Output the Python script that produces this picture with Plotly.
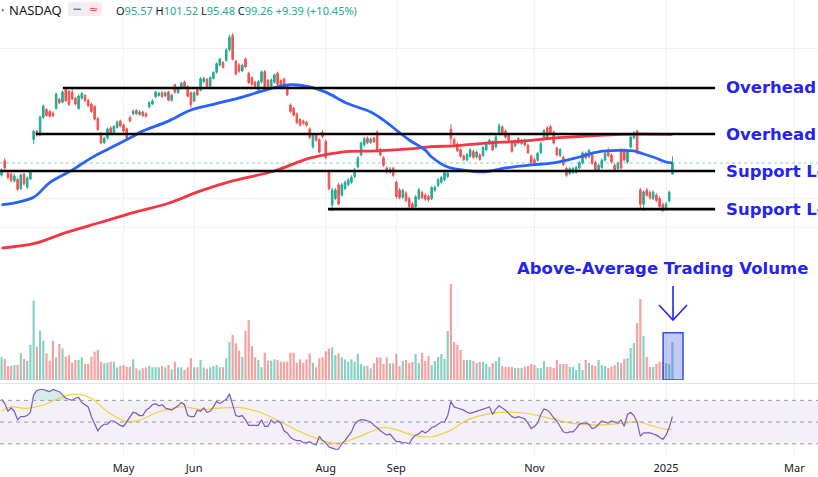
import math
import pandas as pd
import plotly.graph_objects as go

# trading days shown on the chart (Mar 7 2024 -> Jan 6 2025)
holidays = ["2024-03-29", "2024-05-27", "2024-06-19", "2024-07-04", "2024-09-02",
            "2024-11-28", "2024-12-25", "2025-01-01"]
dates = pd.bdate_range("2024-03-07", "2025-01-06", freq="C", holidays=holidays)

opens = [95.3, 100.0, 96.0, 95.5, 93.4, 93.9, 91.0, 95.6, 91.5, 94.0,
         107.5, 110.6, 109.2, 115.8, 119.0, 118.2, 117.5, 119.4, 123.2, 122.0,
         127.3, 126.6, 126.2, 123.6, 119.4, 123.6, 124.8, 122.8, 121.2, 120.2,
         115.4, 109.6, 106.3, 108.0, 111.8, 109.8, 112.0, 114.4, 112.9, 111.5,
         115.8, 117.2, 118.6, 117.0, 118.0, 117.3, 120.0, 121.2, 124.2, 124.8,
         126.0, 124.6, 126.3, 122.8, 129.4, 126.0, 127.8, 130.6, 128.6, 126.0,
         122.5, 127.3, 127.0, 130.8, 131.8, 128.8, 132.2, 135.0, 138.3, 139.5,
         140.5, 145.8, 153.0, 140.2, 138.4, 135.6, 141.2, 134.5, 132.5, 130.5,
         127.2, 130.6, 135.3, 131.4, 128.5, 130.5, 134.6, 131.2, 132.0, 128.5,
         120.8, 119.5, 117.2, 115.0, 114.4, 114.0, 111.4, 104.8, 109.2, 107.4,
         110.2, 106.8, 96.2, 86.1, 88.0, 92.2, 89.0, 91.0, 92.2, 93.0,
         94.8, 98.0, 102.0, 105.6, 108.0, 106.4, 108.0, 110.3, 103.9, 101.0,
         97.6, 96.2, 97.5, 93.0, 90.6, 88.4, 89.6, 88.0, 86.4, 85.6,
         88.0, 89.8, 89.0, 88.6, 88.0, 90.5, 92.0, 93.0, 93.8, 94.8,
         111.3, 107.6, 105.8, 103.8, 101.6, 100.3, 101.5, 103.2, 101.3, 102.0,
         101.8, 103.8, 106.0, 106.6, 104.8, 110.2, 112.2, 110.6, 109.5, 106.3,
         105.2, 107.8, 106.0, 107.2, 105.4, 101.6, 100.4, 100.2, 102.8, 107.6,
         111.8, 112.2, 110.2, 104.4, 101.8, 101.2, 97.5, 95.8, 96.1, 96.2,
         97.6, 99.3, 102.6, 101.3, 102.1, 99.5, 96.8, 97.8, 100.2, 102.9,
         102.0, 98.5, 97.4, 103.8, 103.7, 99.6, 104.8, 108.0, 110.6, 90.6,
         86.3, 90.6, 89.8, 88.0, 89.0, 88.0, 86.2, 84.9, 87.3, 95.57]

highs = [97.5, 101.0, 96.8, 96.3, 95.8, 94.3, 95.8, 96.0, 94.8, 97.0,
         111.2, 111.0, 116.6, 121.0, 119.6, 118.8, 118.2, 126.0, 123.8, 126.9,
         128.1, 127.2, 127.8, 124.2, 125.2, 126.2, 125.4, 123.4, 121.8, 120.8,
         116.0, 110.2, 108.5, 112.0, 112.4, 112.9, 114.6, 115.0, 113.5, 112.0,
         116.5, 119.0, 119.2, 118.8, 118.6, 117.9, 122.4, 123.2, 126.8, 126.4,
         126.6, 126.5, 126.8, 125.5, 130.0, 128.6, 130.7, 131.2, 129.2, 126.5,
         126.6, 128.0, 132.8, 133.0, 132.4, 133.2, 135.5, 139.6, 141.8, 140.2,
         146.4, 153.5, 154.3, 140.8, 139.2, 139.0, 142.0, 135.3, 133.2, 131.2,
         131.5, 135.8, 136.0, 132.0, 132.2, 134.5, 135.3, 131.8, 132.6, 129.0,
         121.5, 120.0, 117.8, 115.6, 115.0, 114.5, 112.0, 109.6, 109.8, 108.0,
         111.0, 107.5, 96.8, 91.2, 91.2, 92.8, 92.8, 93.6, 94.3, 95.2,
         97.6, 101.6, 106.8, 108.4, 108.6, 108.3, 108.5, 110.9, 104.5, 101.6,
         98.2, 97.9, 98.0, 93.6, 91.2, 91.0, 90.2, 88.6, 87.0, 89.0,
         91.2, 90.3, 89.6, 89.2, 91.8, 92.0, 94.4, 95.0, 96.5, 96.5,
         113.2, 108.2, 106.4, 104.4, 102.2, 102.7, 104.4, 103.8, 103.6, 102.6,
         105.2, 106.8, 107.8, 107.2, 109.1, 113.5, 112.8, 111.2, 110.0, 106.9,
         107.6, 108.4, 107.7, 107.8, 106.0, 102.2, 101.0, 103.1, 106.6, 111.4,
         112.4, 113.0, 110.8, 105.0, 104.4, 101.8, 98.0, 98.0, 98.0, 98.4,
         100.0, 103.3, 103.2, 104.2, 102.7, 100.1, 99.1, 100.8, 103.2, 104.6,
         102.6, 99.1, 99.8, 104.4, 104.3, 103.7, 109.0, 110.6, 111.1, 91.2,
         90.5, 91.2, 90.4, 90.5, 89.6, 88.6, 86.8, 87.0, 90.4, 101.52]

lows = [94.8, 97.0, 93.8, 93.0, 92.8, 90.2, 90.6, 92.0, 90.8, 93.6,
        105.8, 108.6, 108.7, 115.3, 116.1, 115.8, 115.9, 118.9, 121.2, 121.5,
        122.1, 120.5, 122.8, 120.7, 118.9, 123.1, 122.1, 120.0, 117.7, 114.7,
        110.7, 105.7, 105.8, 107.5, 109.1, 109.3, 111.5, 112.0, 110.0, 107.5,
        114.0, 116.8, 116.8, 116.5, 116.0, 115.8, 119.5, 120.8, 123.8, 124.3,
        123.8, 124.0, 122.3, 122.2, 125.6, 125.5, 127.3, 128.0, 124.0, 119.6,
        122.0, 124.5, 126.5, 130.2, 128.2, 128.3, 131.7, 134.5, 137.8, 136.8,
        140.0, 145.0, 140.5, 133.5, 134.8, 135.0, 137.0, 129.8, 129.0, 128.2,
        126.6, 130.0, 127.8, 128.2, 128.0, 130.0, 129.0, 128.5, 127.5, 124.5,
        117.6, 116.2, 113.3, 112.3, 113.0, 112.2, 107.6, 104.2, 106.7, 102.5,
        108.0, 100.6, 90.5, 84.3, 87.5, 86.0, 88.5, 90.5, 91.7, 92.5,
        94.3, 97.5, 101.5, 105.0, 105.8, 105.9, 106.2, 102.8, 101.5, 98.0,
        95.8, 95.7, 94.7, 88.0, 87.8, 87.9, 86.9, 85.0, 84.7, 84.5,
        87.5, 87.8, 87.3, 87.0, 87.5, 90.0, 91.5, 92.5, 93.3, 94.3,
        105.6, 105.0, 103.0, 101.0, 99.9, 99.8, 101.0, 100.7, 100.8, 100.0,
        101.3, 103.3, 105.5, 103.3, 104.3, 109.6, 109.0, 107.8, 106.5, 102.8,
        104.7, 105.7, 105.5, 105.0, 102.3, 98.9, 98.3, 99.7, 102.3, 107.1,
        107.8, 109.4, 105.7, 101.5, 101.3, 98.2, 94.7, 95.3, 95.6, 95.7,
        97.1, 98.8, 100.5, 100.8, 98.7, 96.3, 96.3, 97.3, 99.7, 101.3,
        99.1, 96.4, 96.9, 97.1, 99.8, 99.1, 104.3, 107.5, 102.2, 84.8,
        84.4, 88.5, 87.7, 87.5, 86.9, 85.1, 84.0, 84.4, 86.8, 95.48]

closes = [96.9, 97.6, 94.5, 93.6, 95.0, 90.8, 95.3, 92.5, 94.3, 96.3,
          110.5, 109.3, 116.0, 120.4, 116.6, 116.3, 116.6, 125.4, 121.8, 126.3,
          122.6, 121.0, 123.3, 121.2, 124.6, 125.6, 122.6, 120.5, 118.2, 115.2,
          111.2, 106.2, 107.9, 111.4, 109.6, 112.3, 114.0, 112.5, 110.6, 108.0,
          114.5, 118.3, 117.3, 118.0, 116.5, 116.3, 121.8, 122.5, 126.2, 125.7,
          124.3, 125.9, 122.8, 124.9, 126.2, 128.0, 130.1, 128.5, 124.5, 121.0,
          126.0, 125.0, 132.1, 132.2, 128.8, 132.6, 134.9, 139.0, 141.2, 137.3,
          145.6, 152.0, 141.0, 134.2, 135.5, 138.3, 137.5, 130.3, 129.6, 128.7,
          130.8, 135.2, 128.3, 128.8, 131.6, 133.8, 129.6, 129.0, 128.0, 125.0,
          118.2, 116.8, 113.8, 112.9, 113.6, 112.8, 108.2, 109.0, 107.2, 103.0,
          108.6, 101.2, 91.0, 90.6, 90.6, 86.4, 92.2, 93.0, 93.8, 94.6,
          97.0, 101.0, 106.2, 107.8, 106.3, 107.6, 106.7, 103.2, 102.0, 98.5,
          96.3, 97.3, 95.2, 88.6, 88.3, 90.5, 87.4, 85.6, 85.2, 88.5,
          90.6, 88.3, 87.8, 87.6, 91.3, 91.4, 93.8, 94.5, 96.0, 95.9,
          107.8, 105.6, 103.5, 101.5, 100.4, 102.1, 103.8, 101.2, 103.0, 100.5,
          104.6, 106.2, 107.2, 103.8, 108.5, 112.6, 109.6, 108.3, 107.0, 103.3,
          107.0, 106.2, 107.1, 105.5, 102.8, 99.4, 98.8, 102.5, 106.0, 110.8,
          108.3, 109.9, 106.2, 102.0, 103.8, 98.7, 95.2, 97.4, 97.4, 97.8,
          99.4, 102.7, 101.0, 103.6, 99.2, 96.8, 98.5, 100.2, 102.6, 101.8,
          99.6, 96.9, 99.2, 97.6, 100.3, 103.1, 108.4, 109.6, 102.7, 86.3,
          90.0, 89.0, 88.2, 89.9, 87.4, 85.6, 84.5, 86.4, 89.87, 99.26]

# volume, millions of shares
volume = [22.7, 21, 14, 14, 15, 15, 26.7, 21, 19, 35,
          79.3, 33.3, 49.3, 39.3, 26.7, 19.3, 39.3, 22.7, 36, 31.7,
          23.3, 25, 17.3, 20, 20, 22.7, 16, 16, 23.3, 28.3,
          30, 18.3, 16.7, 17.3, 18.3, 18.3, 12.7, 14, 15, 13.3,
          13.3, 20.7, 11.7, 10, 11.7, 12.7, 14, 12.7, 12.7, 12.7,
          14, 12.7, 15, 10.7, 18.3, 12.7, 12.7, 10, 12.7, 21.7,
          12.7, 12.7, 20, 12.7, 11.3, 12.7, 14, 15, 12.7, 12.7,
          21.7, 38, 45, 36.7, 29.3, 23, 49.3, 60, 34, 22.7,
          20, 12.7, 27.3, 19.3, 19.3, 20.7, 20, 18.3, 18.3, 18.3,
          27.3, 27.3, 17.3, 20.7, 17.3, 20.7, 26.7, 17.3, 12.7, 21.7,
          22.7, 28.7, 31.7, 32.7, 25, 26.7, 22.7, 20.7, 18.3, 20.7,
          18.3, 26, 16, 14, 14, 11.7, 16.7, 22.7, 22.7, 16,
          22.7, 16.7, 16.7, 26, 14, 19, 20, 17, 18, 26,
          17, 27, 19, 24, 15, 19, 23, 26, 21, 49,
          96, 38, 35, 30, 20, 20, 20, 19, 17, 18,
          18, 16, 13, 17, 19, 23, 14, 13, 13, 13,
          12, 12, 12, 13, 14, 16, 15, 12, 12, 19,
          13, 13, 12, 20, 16, 16, 16, 13, 13, 10,
          17, 10, 20, 17, 15, 14, 20, 15, 14, 12,
          13, 15, 18, 17, 21, 22, 32, 37, 57, 81,
          44, 23, 13, 13, 16, 18, 18, 17, 16, 38]

rsi = [71, 67, 60, 63, 60, 52, 55, 55, 56, 59,
       75, 79, 80, 80, 79, 78, 80, 79, 78, 75,
       72, 71, 70, 72, 73, 68, 66, 64, 55, 49,
       42, 46, 48, 48, 51, 51, 49, 47, 46, 50,
       55, 59, 58, 56, 56, 61, 63, 66, 67, 65,
       66, 63, 62, 61, 63, 65, 68, 66, 56, 55,
       55, 61, 60, 63, 59, 60, 64, 69, 67, 69,
       71, 76, 65, 56, 55, 56, 52, 47, 47, 47,
       47, 52, 46, 46, 52, 49, 51, 49, 42, 40,
       36, 34, 33, 33, 31, 31, 32, 30, 29, 37,
       33, 31, 27, 26, 25, 25, 30, 33, 37, 41,
       48, 51, 52, 52, 51, 50, 47, 45, 42, 40,
       38, 39, 35, 32, 32, 31, 31, 30, 35, 38,
       39, 42, 40, 42, 45, 46, 48, 50, 50, 56,
       69, 64, 63, 62, 61, 59, 58, 59, 60, 61,
       62, 63, 64, 57, 62, 65, 63, 61, 58, 55,
       54, 55, 54, 53, 49, 44, 46, 49, 57, 62,
       61, 58, 54, 51, 46, 41, 40, 41, 41, 44,
       48, 49, 49, 48, 44, 45, 48, 51, 50, 49,
       51, 50, 49, 52, 46, 57, 59, 56, 50, 37,
       40, 40, 40, 39, 38, 36, 34, 38, 45, 55]

# moving averages at a few bars
ma50_bar = [0, 10, 15, 22, 28, 34, 41, 44, 52, 59, 66, 75, 80, 86, 90, 96, 101, 108,
            115, 119, 123, 127, 132, 134, 139, 144, 150, 157, 165, 172, 180, 186,
            197, 199, 203, 207, 209]
ma50_val = [86.1, 88.4, 92.9, 96.9, 101.0, 104.5, 108.7, 110.6, 114.4, 118.8, 121.1,
            124.1, 126.2, 128.5, 129.4, 128.5, 126.2, 121.3, 118.0, 114.8, 111.0, 107.3,
            103.7, 101.3, 97.9, 96.9, 96.3, 97.6, 98.6, 99.3, 101.3, 103.1, 103.4, 102.7,
            101.3, 99.6, 99.3]
ma200_bar = [0, 10, 20, 31, 41, 52, 62, 72, 85, 96, 106, 117, 127, 134, 141, 151, 162,
             172, 182, 193, 209]
ma200_val = [74.4, 75.5, 78.4, 81.2, 83.9, 86.6, 90.3, 93.4, 96.6, 100.9, 103.0, 103.4,
             104.1, 104.9, 105.2, 106.2, 106.9, 108.0, 108.7, 109.4, 109.4]
rsi_ma_bar = [0, 3, 8, 13, 18, 23, 28, 33, 39, 43, 49, 56, 62, 67, 74, 80, 87, 93, 99,
              104, 110, 115, 119, 123, 128, 134, 140, 145, 150, 155, 162, 168, 173, 178,
              186, 193, 198, 203, 207, 209]
rsi_ma_val = [60, 64, 62.6, 65.7, 71.8, 75.8, 71.8, 59.5, 50.3, 51.8, 59.5, 64.1, 61.7,
              62.6, 63.5, 59.5, 50.3, 41.1, 34.1, 30.4, 35, 41.1, 45.1, 43, 38, 36.5,
              42.6, 51.8, 56.4, 58.9, 58.6, 55.5, 51.8, 48.8, 47.2, 48.8, 50.3, 46.3,
              43.3, 43.3]

# drawn support / resistance levels
level_price = [128.0, 109.5, 96.6, 84.9]
level_start = [19.1, 10.7, -0.5, 101.7]
level_text = ["Overhead Resistance", "Overhead Resistance", "Support Level", "Support Level"]

month_ticks = [("2024-05", "May"), ("2024-06", "Jun"), ("2024-08", "Aug"), ("2024-09", "Sep"),
               ("2024-11", "Nov"), ("2025-01", "2025")]

W, H, PLOT_H = 818, 477, 455
UP, DOWN = "#22ab94", "#ef5350"
BLUE, RED = "#2962ff", "#f23645"
GRID = "#eef0f4"
TXT_BLUE = "#2424ee"


def px(x):
    return x / W


def py(y):
    return (PLOT_H - y) / PLOT_H


idx = list(range(len(dates)))
x_left, x_right = -0.48, 254.35
level_end = 222.3

tickvals, ticktext = [], []
months = dates.strftime("%Y-%m")
for m, lab in month_ticks:
    tickvals.append(list(months).index(m))
    ticktext.append(lab)
future = pd.bdate_range("2025-01-07", "2025-03-03", freq="C", holidays=["2025-01-20", "2025-02-17"])
tickvals.append(idx[-1] + len(future))
ticktext.append("Mar")

fig = go.Figure()

# last price dotted line
fig.add_trace(go.Scatter(x=[x_left, x_right], y=[closes[-1]] * 2, mode="lines",
                         line=dict(color="rgba(34,171,148,0.55)", width=1, dash="dot"),
                         hoverinfo="skip"))

fig.add_trace(go.Candlestick(
    x=idx, open=opens, high=highs, low=lows, close=closes,
    increasing=dict(line=dict(color=UP, width=1), fillcolor=UP),
    decreasing=dict(line=dict(color=DOWN, width=1), fillcolor=DOWN),
    whiskerwidth=0, hoverinfo="skip"))

fig.add_trace(go.Scatter(x=ma200_bar, y=ma200_val, mode="lines",
                         line=dict(color=RED, width=2.8, shape="spline", smoothing=1.0)))
fig.add_trace(go.Scatter(x=ma50_bar, y=ma50_val, mode="lines",
                         line=dict(color=BLUE, width=2.8, shape="spline", smoothing=1.0)))

for p, s in zip(level_price, level_start):
    fig.add_trace(go.Scatter(x=[s, level_end], y=[p, p], mode="lines",
                             line=dict(color="#000000", width=2.6)))

# volume
vol_colors = ["rgba(34,171,148,0.55)" if c >= o else "rgba(239,83,80,0.55)"
              for o, c in zip(opens, closes)]
fig.add_trace(go.Bar(x=idx, y=volume, marker=dict(color=vol_colors, line=dict(width=0)),
                     width=0.68, yaxis="y2"))

# RSI pane
fig.add_trace(go.Scatter(x=idx, y=[70] * len(idx), mode="lines", line=dict(width=0),
                         yaxis="y3", hoverinfo="skip"))
fig.add_trace(go.Scatter(x=idx, y=[max(v, 70) for v in rsi], mode="lines", line=dict(width=0),
                         fill="tonexty", fillcolor="rgba(34,171,148,0.2)", yaxis="y3"))
fig.add_trace(go.Scatter(x=idx, y=[30] * len(idx), mode="lines", line=dict(width=0),
                         yaxis="y3", hoverinfo="skip"))
fig.add_trace(go.Scatter(x=idx, y=[min(v, 30) for v in rsi], mode="lines", line=dict(width=0),
                         fill="tonexty", fillcolor="rgba(239,83,80,0.15)", yaxis="y3"))
fig.add_trace(go.Scatter(x=rsi_ma_bar, y=rsi_ma_val, mode="lines",
                         line=dict(color="#f2d13a", width=1.2, shape="spline"), yaxis="y3"))
fig.add_trace(go.Scatter(x=idx, y=rsi, mode="lines",
                         line=dict(color="#7e57c2", width=1.2), yaxis="y3"))

shapes = [
    dict(type="rect", xref="paper", yref="y3", x0=0, x1=1, y0=30, y1=70,
         fillcolor="rgba(126,87,194,0.09)", line=dict(width=0), layer="below"),
    dict(type="line", xref="paper", yref="paper", x0=0, x1=1, y0=py(383.5), y1=py(383.5),
         line=dict(color="#e0e3eb", width=1)),
    # highlight box on latest volume
    dict(type="rect", xref="x", yref="y2", x0=206.1, x1=212.3, y0=0, y1=47.3,
         fillcolor="rgba(70,90,230,0.32)", line=dict(color="#3b4ce0", width=1.5), layer="above"),
    # arrow
    dict(type="line", xref="paper", yref="paper", x0=px(673), x1=px(673), y0=py(286), y1=py(320),
         line=dict(color=TXT_BLUE, width=1.6)),
    dict(type="path", xref="paper", yref="paper",
         path=f"M {px(659)},{py(305)} L {px(673)},{py(320)} L {px(687)},{py(305)}",
         line=dict(color=TXT_BLUE, width=1.6)),
    # legend pill
    dict(type="rect", xref="paper", yref="paper", x0=px(68), x1=px(85), y0=py(16), y1=py(2),
         fillcolor="#eceef3", line=dict(width=0)),
    dict(type="rect", xref="paper", yref="paper", x0=px(85), x1=px(102), y0=py(16), y1=py(2),
         fillcolor="#fde8ea", line=dict(width=0)),
]
for lv in (70, 50, 30):
    shapes.append(dict(type="line", xref="paper", yref="y3", x0=0, x1=1, y0=lv, y1=lv,
                       line=dict(color="#9a9da8", width=1, dash="4px,4px")))

label_font = dict(family="DejaVu Sans", size=16.5, color=TXT_BLUE)
annotations = []
for p, t in zip(level_price, level_text):
    annotations.append(dict(x=px(724), y=math.log10(p), xref="paper", yref="y", text=f"<b>{t}</b>",
                            showarrow=False, xanchor="left", yanchor="middle", font=label_font))
annotations.append(dict(x=px(515), y=py(268), xref="paper", yref="paper",
                        text="<b>Above-Average Trading Volume</b>", showarrow=False,
                        xanchor="left", yanchor="middle", font=label_font))

chg = closes[-1] - closes[-2]
pct = chg / closes[-2] * 100
g = "#22ab94"
k = "#131722"
ohlc = (f"<span style='color:{k}'>O</span><span style='color:{g}'>{opens[-1]:.2f}</span> "
        f"<span style='color:{k}'>H</span><span style='color:{g}'>{highs[-1]:.2f}</span> "
        f"<span style='color:{k}'>L</span><span style='color:{g}'>{lows[-1]:.2f}</span> "
        f"<span style='color:{k}'>C</span><span style='color:{g}'>{closes[-1]:.2f}</span> "
        f"<span style='color:{g}'>{chg:+.2f} ({pct:+.2f}%)</span>")
annotations += [
    dict(x=px(-1), y=py(10), xref="paper", yref="paper", text="·", showarrow=False,
         xanchor="left", yanchor="middle", font=dict(family="Noto Sans", size=13, color=k)),
    dict(x=px(7), y=py(10), xref="paper", yref="paper", text="NASDAQ", showarrow=False,
         xanchor="left", yanchor="middle", font=dict(family="Noto Sans", size=13, color=k)),
    dict(x=px(77), y=py(9), xref="paper", yref="paper", text="<b>−</b>", showarrow=False,
         xanchor="center", yanchor="middle", font=dict(family="DejaVu Sans", size=12, color="#787b86")),
    dict(x=px(93.5), y=py(9), xref="paper", yref="paper", text="≈", showarrow=False,
         xanchor="center", yanchor="middle", font=dict(family="DejaVu Sans", size=11, color=RED)),
    dict(x=px(114), y=py(10), xref="paper", yref="paper", text=ohlc, showarrow=False,
         xanchor="left", yanchor="middle", font=dict(family="Noto Sans", size=11, color=k)),
]

fig.update_layout(
    width=W, height=H,
    margin=dict(l=0, r=0, t=0, b=H - PLOT_H),
    paper_bgcolor="white", plot_bgcolor="white",
    showlegend=False, hovermode=False,
    xaxis=dict(domain=[0, 1], range=[x_left, x_right], anchor="y3",
               tickvals=tickvals, ticktext=ticktext, ticks="", ticklabelstandoff=5,
               tickfont=dict(family="Noto Sans", size=11, color="#131722"),
               showgrid=True, gridcolor=GRID, gridwidth=1, zeroline=False, showline=False,
               rangeslider=dict(visible=False)),
    yaxis=dict(domain=[py(383), 1], type="log", range=[1.67291, 2.23673], anchor="x",
               tickvals=[54.3, 59.3, 65.2, 79.7, 88.1, 146.1], showticklabels=False,
               showgrid=True, gridcolor=GRID, zeroline=False),
    yaxis2=dict(domain=[py(380), py(280)], range=[0, 100], anchor="x",
                showticklabels=False, showgrid=False, zeroline=False),
    yaxis3=dict(domain=[0, py(383)], range=[19.7, 86.0], anchor="x",
                showticklabels=False, showgrid=False, zeroline=False),
    shapes=shapes,
    annotations=annotations,
)

# the page's default body margin would push the figure 8px right and down
fig.write_html("out.html", config={"displayModeBar": False},
               post_script="document.body.style.margin='0';")
